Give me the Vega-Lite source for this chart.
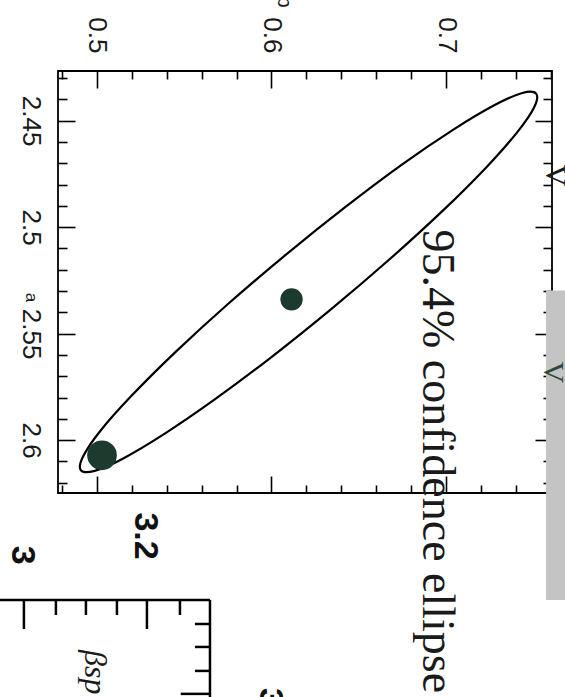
{
  "$schema": "https://vega.github.io/schema/vega-lite/v6.json",
  "width": 494,
  "height": 422,
  "autosize": "none",
  "padding": {"left": 58, "top": 71, "right": 13, "bottom": 204},
  "background": "white",
  "config": {
    "view": {"stroke": "black", "strokeWidth": 1.8},
    "axis": {
      "domain": false,
      "grid": false,
      "tickColor": "black",
      "tickWidth": 1.6,
      "labelFont": "Liberation Sans",
      "labelColor": "#1a1a1a",
      "labelFontSize": 26,
      "labelOverlap": false,
      "labelFlush": false,
      "labelBound": false,
      "titleFont": "Liberation Sans",
      "titleFontWeight": "normal",
      "titleColor": "#1a1a1a"
    }
  },
  "datasets": {
    "ellipse": [
      {"i": 0, "b": 0.7516, "a": 2.4373},
      {"i": 1, "b": 0.7505, "a": 2.4437},
      {"i": 2, "b": 0.7406, "a": 2.4556},
      {"i": 3, "b": 0.7226, "a": 2.4723},
      {"i": 4, "b": 0.6977, "a": 2.4926},
      {"i": 5, "b": 0.6675, "a": 2.5152},
      {"i": 6, "b": 0.6342, "a": 2.5385},
      {"i": 7, "b": 0.6000, "a": 2.5610},
      {"i": 8, "b": 0.5673, "a": 2.5810},
      {"i": 9, "b": 0.5382, "a": 2.5973},
      {"i": 10, "b": 0.5148, "a": 2.6087},
      {"i": 11, "b": 0.4987, "a": 2.6144},
      {"i": 12, "b": 0.4908, "a": 2.6141},
      {"i": 13, "b": 0.4920, "a": 2.6078},
      {"i": 14, "b": 0.5018, "a": 2.5958},
      {"i": 15, "b": 0.5198, "a": 2.5792},
      {"i": 16, "b": 0.5448, "a": 2.5588},
      {"i": 17, "b": 0.5749, "a": 2.5362},
      {"i": 18, "b": 0.6083, "a": 2.5129},
      {"i": 19, "b": 0.6424, "a": 2.4905},
      {"i": 20, "b": 0.6751, "a": 2.4704},
      {"i": 21, "b": 0.7042, "a": 2.4542},
      {"i": 22, "b": 0.7276, "a": 2.4428},
      {"i": 23, "b": 0.7437, "a": 2.4370}
    ],
    "dots": [
      {"kind": "fit", "b": 0.6115, "a": 2.5339},
      {"kind": "start", "b": 0.5029, "a": 2.6071}
    ],
    "frame2": [
      {"b": 0.4300, "b2": 0.56476, "a": 2.6750, "a2": 2.6750},
      {"b": 0.56476, "b2": 0.56476, "a": 2.6750, "a2": 2.7300},
      {"b": 0.45817, "b2": 0.45817, "a": 2.6750, "a2": 2.68863},
      {"b": 0.47650, "b2": 0.47650, "a": 2.6750, "a2": 2.68207},
      {"b": 0.49370, "b2": 0.49370, "a": 2.6750, "a2": 2.68207},
      {"b": 0.51146, "b2": 0.51146, "a": 2.6750, "a2": 2.68207},
      {"b": 0.52865, "b2": 0.52865, "a": 2.6750, "a2": 2.68863},
      {"b": 0.54756, "b2": 0.54756, "a": 2.6750, "a2": 2.68207},
      {"b": 0.55616, "b2": 0.56476, "a": 2.68629, "a2": 2.68629},
      {"b": 0.55616, "b2": 0.56476, "a": 2.69707, "a2": 2.69707},
      {"b": 0.55616, "b2": 0.56476, "a": 2.70832, "a2": 2.70832},
      {"b": 0.54800, "b2": 0.56476, "a": 2.71910, "a2": 2.71910}
    ],
    "box": [
      {"b": 0.7573, "b2": 0.7900, "a": 2.5297, "a2": 2.6750}
    ]
  },
  "layer": [
    {
      "data": {"name": "box"},
      "mark": {"type": "rect", "color": "#c4c4c4", "clip": false},
      "encoding": {
        "x": {"field": "b", "type": "quantitative", "scale": {"domain": [0.4777, 0.7607], "zero": false, "nice": false},
          "axis": {
            "orient": "top",
            "values": [0.48, 0.5, 0.52, 0.54, 0.56, 0.58, 0.6, 0.62, 0.64, 0.66, 0.68, 0.7, 0.72, 0.74, 0.76],
            "format": ".3~f",
            "labelExpr": "abs(datum.value*10 - round(datum.value*10)) < 0.000001 ? datum.label : ''",
            "labelAngle": 90,
            "labelAlign": "right",
            "labelBaseline": "middle",
            "labelPadding": 35,
            "tickSize": {"condition": {"test": "abs(datum.value*10 - round(datum.value*10)) < 0.000001", "value": -17}, "value": -8},
            "title": "b",
            "titleAngle": 90,
            "titleFontSize": 20,
            "titleAlign": "right",
            "titleBaseline": "middle",
            "titleX": 225,
            "titleY": -64
          }
        },
        "x2": {"field": "b2"},
        "y": {"field": "a", "type": "quantitative", "scale": {"domain": [2.4267, 2.6248], "zero": false, "nice": false, "reverse": true},
          "axis": {
            "orient": "left",
            "values": [2.43, 2.44, 2.45, 2.46, 2.47, 2.48, 2.49, 2.5, 2.51, 2.52, 2.53, 2.54, 2.55, 2.56, 2.57, 2.58, 2.59, 2.6, 2.61, 2.62],
            "format": ".3~f",
            "labelExpr": "abs(datum.value*20 - round(datum.value*20)) < 0.000001 ? datum.label : ''",
            "labelAngle": 90,
            "labelAlign": "center",
            "labelBaseline": "top",
            "labelPadding": 32,
            "tickSize": {"condition": {"test": "abs(datum.value*20 - round(datum.value*20)) < 0.000001", "value": -17}, "value": -9},
            "title": "a",
            "titleAngle": 90,
            "titleFontSize": 17,
            "titleAlign": "center",
            "titleBaseline": "middle",
            "titleX": -28,
            "titleY": 226
          }
        },
        "y2": {"field": "a2"}
      }
    },
    {
      "data": {"name": "ellipse"},
      "mark": {"type": "line", "interpolate": "cardinal-closed", "color": "black", "strokeWidth": 2.2},
      "encoding": {
        "x": {"field": "b", "type": "quantitative",
          "axis": {
            "orient": "bottom",
            "values": [0.48, 0.5, 0.52, 0.54, 0.56, 0.58, 0.6, 0.62, 0.64, 0.66, 0.68, 0.7, 0.72, 0.74, 0.76],
            "labels": false,
            "title": null,
            "tickSize": {"condition": {"test": "abs(datum.value*10 - round(datum.value*10)) < 0.000001", "value": -17}, "value": -8}
          }
        },
        "y": {"field": "a", "type": "quantitative",
          "axis": {
            "orient": "right",
            "values": [2.43, 2.44, 2.45, 2.46, 2.47, 2.48, 2.49, 2.5, 2.51, 2.52, 2.53, 2.54, 2.55, 2.56, 2.57, 2.58, 2.59, 2.6, 2.61, 2.62],
            "labels": false,
            "title": null,
            "tickSize": {"condition": {"test": "abs(datum.value*20 - round(datum.value*20)) < 0.000001", "value": -17}, "value": -9}
          }
        },
        "order": {"field": "i", "type": "quantitative"}
      }
    },
    {
      "data": {"name": "dots"},
      "mark": {"type": "point", "shape": "circle", "filled": true, "opacity": 1, "color": "#1d3a2e"},
      "encoding": {
        "x": {"field": "b", "type": "quantitative", "axis": null},
        "y": {"field": "a", "type": "quantitative", "axis": null},
        "size": {"field": "kind", "type": "nominal", "scale": {"domain": ["fit", "start"], "range": [500, 880]}, "legend": null}
      }
    },
    {
      "data": {"name": "frame2"},
      "mark": {"type": "rule", "color": "black", "strokeWidth": 2.5, "clip": false},
      "encoding": {
        "x": {"field": "b", "type": "quantitative", "axis": null},
        "x2": {"field": "b2"},
        "y": {"field": "a", "type": "quantitative", "axis": null},
        "y2": {"field": "a2"}
      }
    },
    {
      "data": {"values": [{"b": 0.6948, "a": 2.5011, "label": "95.4% confidence ellipse"}]},
      "mark": {"type": "text", "angle": 90, "align": "left", "baseline": "middle", "font": "Liberation Serif", "fontSize": 46, "color": "#1a1a1a"},
      "encoding": {
        "x": {"field": "b", "type": "quantitative", "axis": null},
        "y": {"field": "a", "type": "quantitative", "axis": null},
        "text": {"field": "label"}
      }
    },
    {
      "data": {"values": [{"b": 0.76132, "a": 2.56814, "label": "V", "c": "g"}, {"b": 0.7622, "a": 2.47579, "label": "V", "c": "k"}]},
      "mark": {"type": "text", "angle": 90, "align": "center", "baseline": "middle", "font": "Liberation Serif", "fontSize": 30},
      "encoding": {
        "x": {"field": "b", "type": "quantitative", "axis": null},
        "y": {"field": "a", "type": "quantitative", "axis": null},
        "text": {"field": "label"},
        "color": {"field": "c", "type": "nominal", "scale": {"domain": ["g", "k"], "range": ["#2b4a3b", "#1a1a1a"]}, "legend": null}
      }
    },
    {
      "data": {"values": [{"b": 0.5275, "a": 2.6450, "label": "3.2"}, {"b": 0.4570, "a": 2.6540, "label": "3"}]},
      "mark": {"type": "text", "angle": 90, "align": "center", "baseline": "middle", "font": "Liberation Sans", "fontWeight": "bold", "fontSize": 34, "color": "#111111"},
      "encoding": {
        "x": {"field": "b", "type": "quantitative", "axis": null},
        "y": {"field": "a", "type": "quantitative", "axis": null},
        "text": {"field": "label"}
      }
    },
    {
      "data": {"values": [{"b": 0.59914, "a": 2.71629, "label": "3.4"}]},
      "mark": {"type": "text", "angle": 90, "align": "left", "baseline": "middle", "font": "Liberation Sans", "fontWeight": "bold", "fontSize": 34, "color": "#111111"},
      "encoding": {
        "x": {"field": "b", "type": "quantitative", "axis": null},
        "y": {"field": "a", "type": "quantitative", "axis": null},
        "text": {"field": "label"}
      }
    },
    {
      "data": {"values": [{"b": 0.49885, "a": 2.69850, "label": "βsp"}]},
      "mark": {"type": "text", "angle": 90, "align": "left", "baseline": "middle", "font": "Liberation Serif", "fontStyle": "italic", "fontSize": 32, "color": "#1a1a1a"},
      "encoding": {
        "x": {"field": "b", "type": "quantitative", "axis": null},
        "y": {"field": "a", "type": "quantitative", "axis": null},
        "text": {"field": "label"}
      }
    }
  ],
  "resolve": {"axis": {"x": "independent", "y": "independent"}}
}
